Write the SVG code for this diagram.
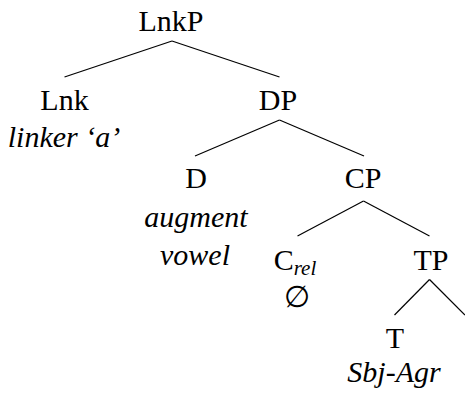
<svg xmlns="http://www.w3.org/2000/svg" width="465" height="396" viewBox="0 0 465 396">
<rect width="465" height="396" fill="#fff"/>
<g id="edges" stroke="#000" stroke-width="1.2">
<line x1="172" y1="41" x2="64.5" y2="77"/>
<line x1="172" y1="41" x2="279.5" y2="77"/>
<line x1="279.5" y1="120" x2="195" y2="156"/>
<line x1="279.5" y1="120" x2="364" y2="156"/>
<line x1="363.5" y1="201" x2="297.5" y2="236"/>
<line x1="363.5" y1="201" x2="429.5" y2="236"/>
<line x1="429.5" y1="279.5" x2="394.5" y2="315"/>
<line x1="429.5" y1="279.5" x2="465" y2="315"/>
</g>
<g id="LnkP"><text font-family="Liberation Serif" font-size="30" text-anchor="middle" x="171" y="31">LnkP</text></g>
<g id="Lnk"><text font-family="Liberation Serif" font-size="30" text-anchor="middle" x="64.5" y="110">Lnk</text><text font-family="Liberation Serif" font-size="30" font-style="italic" text-anchor="middle" x="64" y="146.5">linker &#8216;a&#8217;</text></g>
<g id="DP"><text font-family="Liberation Serif" font-size="30" text-anchor="middle" x="278" y="110">DP</text></g>
<g id="D"><text font-family="Liberation Serif" font-size="30" text-anchor="middle" x="196" y="188">D</text><text font-family="Liberation Serif" font-size="30" font-style="italic" text-anchor="middle" x="196" y="226.5">augment</text><text font-family="Liberation Serif" font-size="30" font-style="italic" text-anchor="middle" x="195" y="265">vowel</text></g>
<g id="CP"><text font-family="Liberation Serif" font-size="30" text-anchor="middle" x="363" y="188">CP</text></g>
<g id="C"><text font-family="Liberation Serif" font-size="30" text-anchor="middle" x="295" y="270">C<tspan font-size="21" font-style="italic" dy="5">rel</tspan></text><text font-family="Liberation Serif" font-size="30" text-anchor="middle" x="296.5" y="306.5">&#8709;</text></g>
<g id="TP"><text font-family="Liberation Serif" font-size="30" text-anchor="middle" x="431" y="270">TP</text></g>
<g id="T"><text font-family="Liberation Serif" font-size="30" text-anchor="middle" x="395" y="348">T</text><text font-family="Liberation Serif" font-size="30" font-style="italic" text-anchor="middle" x="394" y="381.5">Sbj-Agr</text></g>
</svg>
